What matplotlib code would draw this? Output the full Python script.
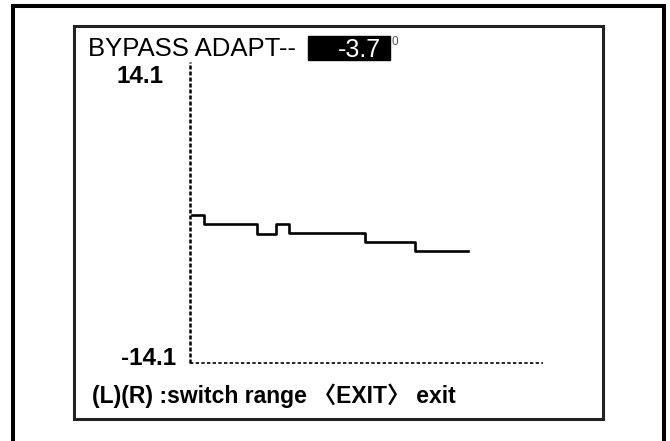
import matplotlib
matplotlib.use("Agg")
from matplotlib import pyplot as plt
from matplotlib.patches import Rectangle

plt.rcParams['font.family'] = ['Liberation Sans', 'Noto Sans CJK SC', 'DejaVu Sans']

# step trace (sample index vs degrees)
sample_x = [0.6, 4.0, 19.0, 24.4, 28.0, 49.6, 63.7, 78.8]
adapt_deg = [-0.2, -1.1, -2.0, -1.1, -1.9, -2.8, -3.6, -3.6]
y_range = [-14.1, 14.1]
current_value = "-3.7"
title = "BYPASS ADAPT--"
footer = "(L)(R) :switch range \u3008EXIT\u3009 exit"

W, H = 670, 441
fig = plt.figure(figsize=(W / 100, H / 100), dpi=100)

def fx(px):
    return px / W

def fy(py):
    return 1 - py / H

# frames
fig.patches.append(Rectangle((fx(13), fy(470)), fx(664 - 13), (470 - 6.5) / H,
                             transform=fig.transFigure, fill=False, lw=2.9, ec='black'))
fig.patches.append(Rectangle((fx(73.5), fy(418.5)), fx(603 - 73.5), (418.5 - 26) / H,
                             transform=fig.transFigure, fill=False, lw=2.2, ec='#222222'))

ax = fig.add_axes([fx(190), fy(363), fx(543 - 190), (363 - 62) / H])
ax.set_xlim(0, 100)
ax.set_ylim(y_range[0], y_range[1])
for s in ax.spines.values():
    s.set_visible(False)
ax.set_xticks([])
ax.set_yticks([])
ax.patch.set_alpha(0)

# dashed axes
ax.plot([0, 0], [y_range[0], y_range[1]], color='black', lw=1.8,
        dashes=(1.6, 0.8), clip_on=False)
ax.plot([0, 100], [y_range[0], y_range[0]], color='black', lw=1.2,
        dashes=(2.0, 1.4), clip_on=False)

ax.plot(sample_x, adapt_deg, drawstyle='steps-post', color='black', lw=1.9)

# header
fig.text(fx(88), fy(56), title, fontsize=18.5, ha='left', va='baseline')
fig.patches.append(Rectangle((fx(308), fy(60)), fx(390 - 308), (60 - 36) / H,
                             transform=fig.transFigure, color='black'))
fig.text(fx(381), fy(57), current_value, fontsize=18, color='white',
         ha='right', va='baseline')
fig.text(fx(391), fy(45), "0", fontsize=8.5, color='#555555',
         ha='left', va='baseline')

fig.text(fx(163), fy(83), f"{y_range[1]}", fontsize=17.5, fontweight='bold',
         ha='right', va='baseline')
fig.text(fx(176), fy(365), f"{y_range[0]}", fontsize=17.5, fontweight='bold',
         ha='right', va='baseline')

fig.text(fx(92), fy(403), footer, fontsize=16.5, fontweight='bold',
         ha='left', va='baseline')

fig.savefig("out.png", dpi=100)
